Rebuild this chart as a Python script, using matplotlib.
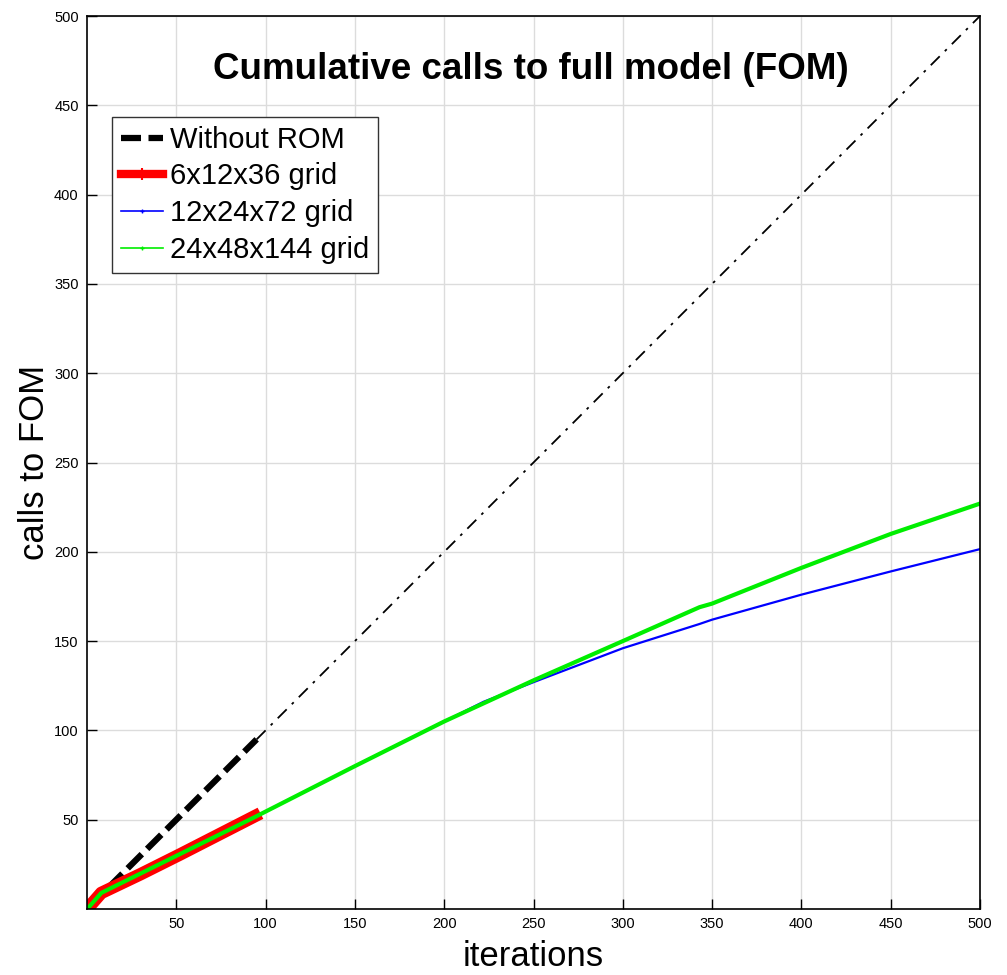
import matplotlib
matplotlib.use("Agg")
import matplotlib.pyplot as plt
from matplotlib.lines import Line2D

plt.rcParams["font.family"] = ["Liberation Sans", "DejaVu Sans"]

# -- data ------------------------------------------------------------------
no_rom_x = [1, 95]
no_rom_y = [1, 95]
diag_x = [95, 500]
diag_y = [95, 500]

coarse_x = [1, 8, 30, 52, 94]
coarse_y = [1, 9, 19.5, 30.5, 52]

medium_x = [1, 8, 95, 150, 200, 222, 250, 300, 343, 350, 400, 450, 500]
medium_y = [1, 9, 52, 80, 105, 116, 127, 146, 159.6, 162, 176, 189, 201.5]

fine_x = [1, 8, 95, 150, 200, 250, 300, 343, 350, 400, 450, 500]
fine_y = [1, 9, 52, 80, 105, 128, 150, 169, 171, 191, 210, 227]

labels = ["Without ROM", "6x12x36 grid", "12x24x72 grid", "24x48x144 grid"]
ticks = [50, 100, 150, 200, 250, 300, 350, 400, 450, 500]

fig = plt.figure(figsize=(10.07, 9.75), dpi=100)
ax = fig.add_axes([87 / 1007, 1 - 909 / 975, 893 / 1007, 893 / 975])

ax.plot(diag_x, diag_y, color="black", lw=1.3, ls=(0, (7, 4, 1.5, 4)))
ax.plot(no_rom_x, no_rom_y, color="black", lw=4.5, ls=(0, (3.2, 1.2)),
        solid_capstyle="butt")
ax.plot(coarse_x, coarse_y, color="#ff0000", lw=9, solid_joinstyle="round")
ax.plot(medium_x, medium_y, color="#0000ff", lw=1.6)
ax.plot(fine_x, fine_y, color="#00ee00", lw=3.0)

ax.set_xlim(0, 500)
ax.set_ylim(0, 500)
ax.set_xticks(ticks)
ax.set_yticks(ticks)
ax.tick_params(direction="in", length=7, width=1, labelsize=10.5, pad=6)
ax.grid(True, color="#dcdcdc", lw=1)
ax.set_axisbelow(True)
for s in ax.spines.values():
    s.set_linewidth(1.2)

ax.set_xlabel("iterations", fontsize=25, labelpad=6)
ax.set_ylabel("calls to FOM", fontsize=25, labelpad=2)
ax.text(0.497, 0.94, "Cumulative calls to full model (FOM)", transform=ax.transAxes,
        ha="center", va="center", fontsize=26.5, fontweight="bold")

handles = [
    Line2D([], [], color="black", lw=4.5, ls=(0, (3.2, 1.2))),
    Line2D([], [], color="#ff0000", lw=6, marker="+", markersize=8, mew=1.5),
    Line2D([], [], color="#0000ff", lw=1.2, marker="+", markersize=3),
    Line2D([], [], color="#00ee00", lw=1.2, marker="+", markersize=3),
]
leg = ax.legend(handles, labels, loc="upper left",
                bbox_to_anchor=(112 / 1007, 1 - 117 / 975),
                bbox_transform=fig.transFigure, borderaxespad=0,
                fontsize=21, handlelength=1.45, handletextpad=0.25,
                labelspacing=0.3, borderpad=0.3, fancybox=False,
                framealpha=1, edgecolor="#333333")
leg.get_frame().set_linewidth(1)

fig.savefig("out.png", dpi=100)
